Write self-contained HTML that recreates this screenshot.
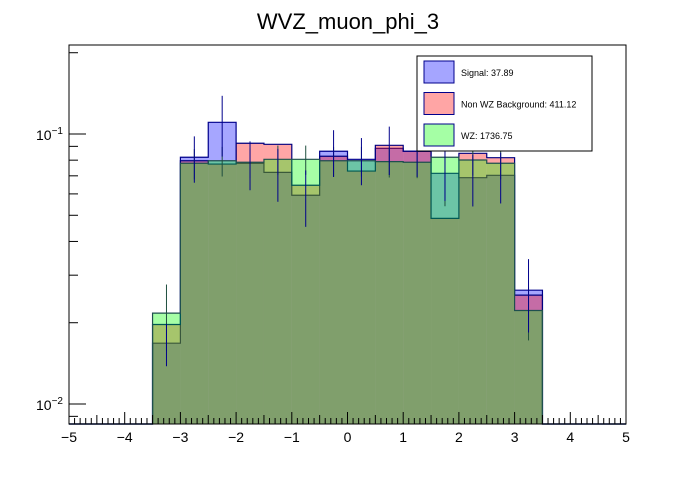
<!DOCTYPE html>
<html><head><meta charset="utf-8"><style>
body{margin:0;background:#fff;width:696px;height:472px;overflow:hidden;font-family:"Liberation Sans",Arial,sans-serif}
</style></head><body>
<svg id="c" width="696" height="472" xmlns="http://www.w3.org/2000/svg"></svg>
<script>
const binEdgesStart = -3.5, binWidth = 0.5;
const signalVals = [0.0168,0.0820,0.1105,0.0779,0.0721,0.0593,0.0863,0.0806,0.0885,0.0863,0.0715,0.0689,0.0703,0.0264];
const nonWzVals = [0.0197,0.0796,0.0774,0.0924,0.0916,0.0646,0.0827,0.0729,0.0908,0.0863,0.0487,0.0848,0.0817,0.0253];
const wzVals = [0.0217,0.0779,0.0796,0.0786,0.0806,0.0806,0.0796,0.0796,0.0790,0.0786,0.0820,0.0801,0.0779,0.0222];
const signalErr = [0.003,0.016,0.028,0.016,0.016,0.014,0.017,0.016,0.018,0.017,0.015,0.015,0.015,0.008];
const wzErr = [0.006,0.010,0.010,0.010,0.010,0.010,0.010,0.010,0.010,0.010,0.028,0.010,0.010,0.005];
const xTicks = [-5,-4,-3,-2,-1,0,1,2,3,4,5];
const legendLabels = ["Signal: 37.89","Non WZ Background: 411.12","WZ: 1736.75"];

const L=69,R=626,T=45,B=424;
const xs=v=>L+(v+5)/10*(R-L);
const ys=v=>134-270*Math.log10(v/0.1);
const svg=document.getElementById('c');
const NS="http://www.w3.org/2000/svg";
function mk(t,a,p){const e=document.createElementNS(NS,t);for(const k in a)e.setAttribute(k,a[k]);(p||svg).appendChild(e);return e;}

let title=mk('text',{x:348,y:29,'text-anchor':'middle','font-size':22,fill:'#000'});
title.textContent='WVZ_muon_phi_3';



function drawHist(vals,fill,stroke,name){
  const g=mk('g',{});
  
  
  let d='M'+L+','+B+' L'+xs(binEdgesStart)+','+B;
  vals.forEach((v,i)=>{
    const x0=xs(binEdgesStart+i*binWidth),x1=xs(binEdgesStart+(i+1)*binWidth);
    const y=Math.min(B,ys(v));
    d+=' L'+x0+','+y+' L'+x1+','+y;
    const r=mk('rect',{x:x0,y:y,width:x1-x0,height:B-y,fill:fill},g);
    
    
  });
  d+=' L'+xs(binEdgesStart+vals.length*binWidth)+','+B+' L'+R+','+B;
  mk('path',{d:d,fill:'none',stroke:stroke,'stroke-width':1.2},g);
}
drawHist(signalVals,'rgba(0,0,255,0.35)','#00008b','signal-hist');
drawHist(nonWzVals,'rgba(255,0,0,0.35)','#000080','non-wz-hist');
drawHist(wzVals,'rgba(0,255,0,0.35)','#1f4f4f','wz-hist');

function drawErr(vals,errs,stroke,name){
  vals.forEach((v,i)=>{
    const x=xs(binEdgesStart+(i+0.5)*binWidth);
    const l=mk('line',{x1:x,x2:x,y1:ys(v+errs[i]),y2:Math.min(B,ys(Math.max(v-errs[i],0.0085))),stroke:stroke,'stroke-width':1});
    
    
  });
}
drawErr(wzVals,wzErr,'#1f4f3f','wz-error-bar');
drawErr(signalVals,signalErr,'#00008b','signal-error-bar');

const fr=mk('rect',{x:L,y:T,width:R-L,height:B-T,fill:'none',stroke:'#000','stroke-width':1});



for(let k=0;k<=100;k++){
  const v=-5+k*0.1,x=xs(v);
  const major=k%10===0, half=k%5===0;
  mk('line',{x1:x,x2:x,y1:B,y2:B-(major?12:(half?9:6)),stroke:'#000','stroke-width':1});
}
xTicks.forEach(v=>{
  const t=mk('text',{x:xs(v),y:442,'text-anchor':'middle','font-size':14,fill:'#000'});
  t.textContent=v<0?'\u2212'+Math.abs(v):String(v);
  
  
});
[0.009,0.01,0.02,0.03,0.04,0.05,0.06,0.07,0.08,0.09,0.1,0.2].forEach(v=>{
  const y=ys(v);if(y<T||y>B)return;
  const major=(v===0.01||v===0.1);
  mk('line',{x1:L,x2:L+(major?17:9),y1:y,y2:y,stroke:'#000','stroke-width':1});
});
[[0.1,'10'],[0.01,'10']].forEach((p,i)=>{
  const y=ys(p[0]);
  const t=mk('text',{x:36,y:y+6,'font-size':14,fill:'#000'});
  t.textContent=p[1];
  const s=mk('tspan',{dy:-6,'font-size':10},t);
  s.textContent=i===0?'\u22121':'\u22122';
  
  
});

const lg=mk('g',{});


mk('rect',{x:417,y:56,width:175,height:95,fill:'#fff',stroke:'#000','stroke-width':1},lg);
const swFill=['#a5a5ff','#ffa5a5','#a5ffa5'];
legendLabels.forEach((lab,i)=>{
  const y=61+i*31.5;
  const sw=mk('rect',{x:424,y:y,width:30,height:22,fill:swFill[i],stroke:'#00008b','stroke-width':1},lg);
  
  
  const t=mk('text',{x:461,y:y+15,'font-size':9,fill:'#000'},lg);
  t.textContent=lab;
  
  
});
</script>
</body></html>
